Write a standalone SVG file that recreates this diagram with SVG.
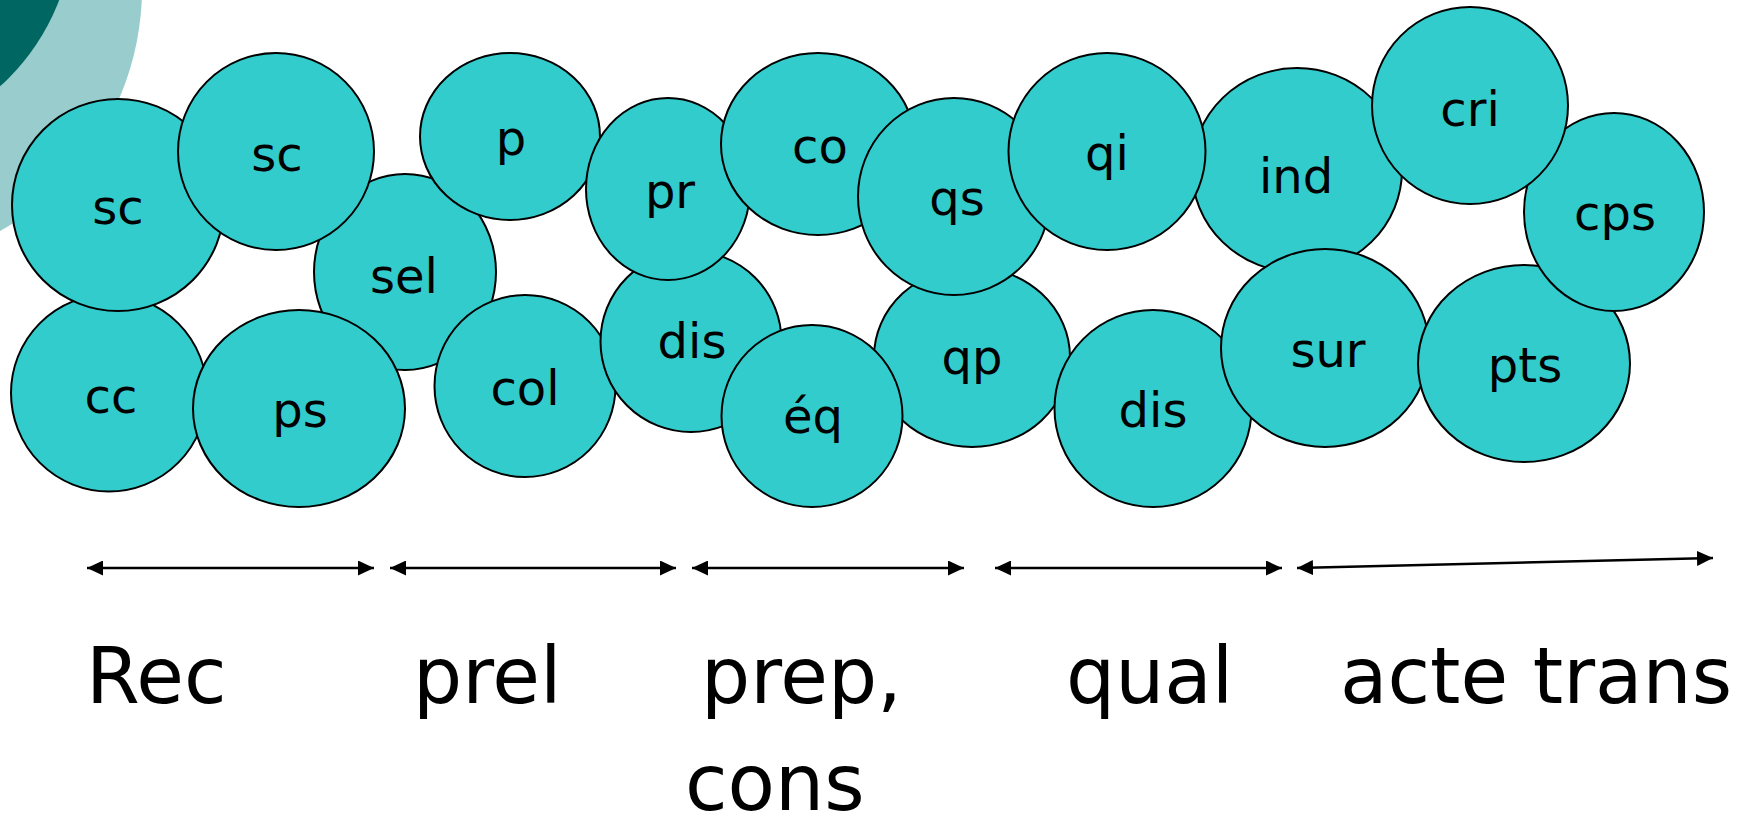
<svg xmlns="http://www.w3.org/2000/svg" width="1744" height="816" viewBox="0 0 1744 816">
  <style>
    .bubble { fill: #33CCCC; stroke: #000000; stroke-width: 2; }
    .tag { font-family: "DejaVu Sans", Verdana, sans-serif; font-size: 48px; fill: #000000; text-anchor: middle; }
    .phase { font-family: "DejaVu Sans", Verdana, sans-serif; font-size: 77.5px; fill: #000000; }
    .span { stroke: #000000; stroke-width: 2.5; fill: none; marker-start: url(#head); marker-end: url(#head); }
  </style>
  <defs>
    <marker id="head" markerUnits="userSpaceOnUse" markerWidth="16" markerHeight="15" refX="16" refY="7.5" orient="auto-start-reverse">
      <path d="M0,0 L16,7.5 L0,15 Z" fill="#000000"/>
    </marker>
  </defs>

  <rect x="0" y="0" width="1744" height="816" fill="#FFFFFF"/>

  <!-- corner decoration -->
  <g id="corner">
    <circle cx="-137" cy="-12" r="279" fill="#99CCCC"/>
    <circle cx="-150" cy="-80" r="224" fill="#006661"/>
  </g>

  <!-- bubbles, back to front -->
  <g id="n-cc"><ellipse class="bubble" cx="109" cy="393" rx="98" ry="98.5"/><text class="tag" x="111" y="413">cc</text></g>
  <g id="n-sc1"><ellipse class="bubble" cx="118" cy="205" rx="106" ry="106"/><text class="tag" x="118" y="224">sc</text></g>
  <g id="n-sel"><ellipse class="bubble" cx="405" cy="272" rx="91" ry="98"/><text class="tag" x="404" y="293">sel</text></g>
  <g id="n-sc2"><ellipse class="bubble" cx="276" cy="151.5" rx="98" ry="98.5"/><text class="tag" x="277" y="171">sc</text></g>
  <g id="n-p"><ellipse class="bubble" cx="510" cy="136.5" rx="90" ry="83.5"/><text class="tag" x="511" y="155">p</text></g>
  <g id="n-ps"><ellipse class="bubble" cx="299" cy="408.5" rx="106" ry="98.5"/><text class="tag" x="300" y="427">ps</text></g>
  <g id="n-col"><ellipse class="bubble" cx="525" cy="386" rx="90.5" ry="91"/><text class="tag" x="525" y="405">col</text></g>
  <g id="n-dis1"><ellipse class="bubble" cx="691" cy="341.5" rx="90.5" ry="90.5"/><text class="tag" x="692" y="358">dis</text></g>
  <g id="n-pr"><ellipse class="bubble" cx="668" cy="189" rx="82" ry="91"/><text class="tag" x="670" y="208">pr</text></g>
  <g id="n-co"><ellipse class="bubble" cx="818" cy="144" rx="97" ry="91"/><text class="tag" x="820" y="163">co</text></g>
  <g id="n-qp"><ellipse class="bubble" cx="972" cy="357" rx="98" ry="90"/><text class="tag" x="972" y="374">qp</text></g>
  <g id="n-qs"><ellipse class="bubble" cx="954" cy="196.5" rx="96" ry="98.5"/><text class="tag" x="957" y="215">qs</text></g>
  <g id="n-eq"><ellipse class="bubble" cx="812" cy="416" rx="90.5" ry="91"/><text class="tag" x="813" y="433">éq</text></g>
  <g id="n-ind"><ellipse class="bubble" cx="1297" cy="170" rx="105" ry="102"/><text class="tag" x="1296" y="193">ind</text></g>
  <g id="n-qi"><ellipse class="bubble" cx="1107" cy="151.5" rx="98.5" ry="98.5"/><text class="tag" x="1107" y="170">qi</text></g>
  <g id="n-dis2"><ellipse class="bubble" cx="1153" cy="408.5" rx="98.5" ry="98.5"/><text class="tag" x="1153" y="427">dis</text></g>
  <g id="n-sur"><ellipse class="bubble" cx="1325" cy="348" rx="104" ry="99"/><text class="tag" x="1328" y="367">sur</text></g>
  <g id="n-pts"><ellipse class="bubble" cx="1524" cy="363.5" rx="106" ry="98.5"/><text class="tag" x="1525" y="382">pts</text></g>
  <g id="n-cps"><ellipse class="bubble" cx="1614" cy="212" rx="90" ry="99"/><text class="tag" x="1615" y="230">cps</text></g>
  <g id="n-cri"><ellipse class="bubble" cx="1470" cy="105.5" rx="98" ry="98.5"/><text class="tag" x="1470" y="126">cri</text></g>

  <!-- phase spans -->
  <g id="connectors">
    <line class="span" x1="87" y1="568" x2="374" y2="568"/>
    <line class="span" x1="390" y1="568" x2="676" y2="568"/>
    <line class="span" x1="692" y1="568" x2="964" y2="568"/>
    <line class="span" x1="995" y1="568" x2="1282" y2="568"/>
    <line class="span" x1="1297" y1="568" x2="1713" y2="558"/>
  </g>

  <!-- phase labels -->
  <g id="labels">
    <text class="phase" x="86" y="703">Rec</text>
    <text class="phase" x="413" y="703">prel</text>
    <text class="phase" x="701" y="703">prep,</text>
    <text class="phase" x="685" y="810">cons</text>
    <text class="phase" x="1066" y="703">qual</text>
    <text class="phase" x="1340" y="703">acte trans</text>
  </g>
</svg>
